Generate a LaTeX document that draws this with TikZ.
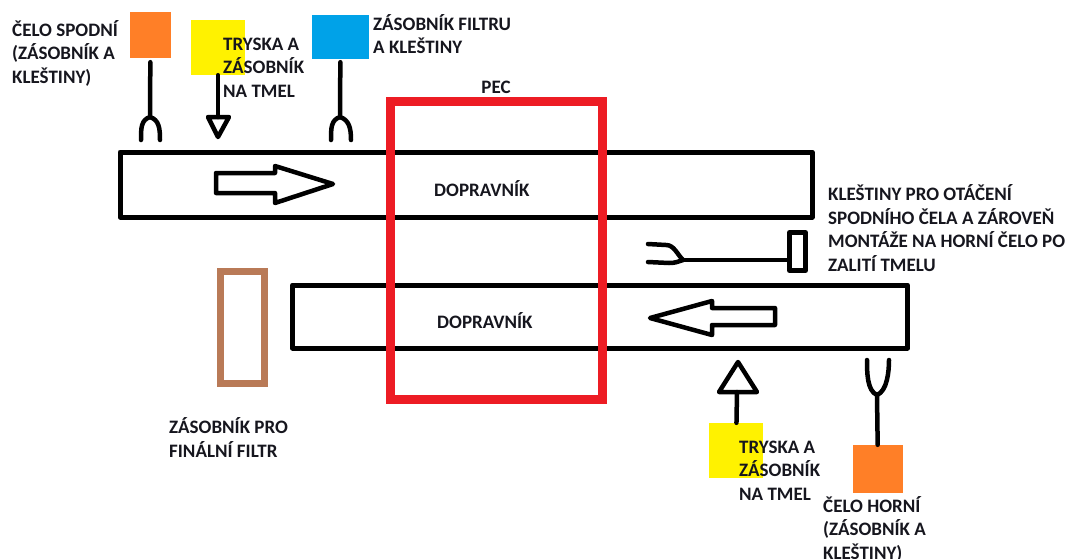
\documentclass[tikz,border=0pt]{standalone}
\usepackage{fontspec}
\setmainfont{Carlito}
\usetikzlibrary{positioning}
\definecolor{ink}{HTML}{16161E}
\definecolor{paintorange}{HTML}{FF7F27}
\definecolor{paintyellow}{HTML}{FFF200}
\definecolor{paintblue}{HTML}{00A2E8}
\definecolor{paintred}{HTML}{ED1C24}
\definecolor{paintbrown}{HTML}{B97A57}

\begin{document}
\begin{tikzpicture}[
  x=1pt,y=-1pt,
  lbl/.style={font=\fontsize{19}{23.5}\selectfont\bfseries,text=ink,align=left,inner sep=0pt,anchor=base west},
  belt/.style={draw,line width=5pt,line join=round,inner sep=0pt},
  sq/.style={inner sep=0pt,minimum width=#1},
  stem/.style={line width=4.5pt,line cap=round,line join=round}
]
\useasboundingbox (0,0) rectangle (1076,558);

\node[sq=41pt,minimum height=46pt,fill=paintorange] (lowend) at (150.5,35) {};
\node[sq=54pt,minimum height=55pt,fill=paintyellow] (nozzletop) at (218,47.5) {};
\node[sq=57pt,minimum height=44pt,fill=paintblue] (filterbin) at (340.5,37) {};
\node[sq=54pt,minimum height=55pt,fill=paintyellow] (nozzlebot) at (736,450.5) {};
\node[sq=50pt,minimum height=48pt,fill=paintorange] (upend) at (878,469) {};

\node[belt,minimum width=692pt,minimum height=65pt] (beltA) at (466,184.5) {};
\node[belt,minimum width=615pt,minimum height=63pt] (beltB) at (600,316.5) {};
\node[draw=paintbrown,line width=7pt,inner sep=0pt,minimum width=44pt,minimum height=112pt] (finalbin) at (242.5,327.5) {};
\node[belt,minimum width=16pt,minimum height=38pt] (plate) at (797.5,251.5) {};

\draw[stem,line cap=butt] (216,173) -- (275,173) -- (275,166) -- (333,184) -- (275,203) -- (275,193) -- (216,193) -- cycle;
\draw[stem,line cap=butt] (775,308) -- (712,308) -- (712,301) -- (650,318) -- (712,335) -- (712,325) -- (775,325) -- cycle;

\coordinate (g1) at (150,117);
\coordinate (t1) at (218,117);
\coordinate (g2) at (340,117);
\coordinate (g3) at (683,260);
\coordinate (t2) at (737,392);
\coordinate (g4) at (877,395);

\draw[stem,shorten <=4pt] (lowend) -- (g1);
\draw[stem] (g1) .. controls +(-9,3) and +(0,-12) .. +(-9,23);
\draw[stem] (g1) .. controls +(9,3) and +(0,-12) .. +(10,23);
\draw[stem] (nozzletop) -- (t1);
\draw[stem] (t1) +(-10,0) -- +(11,0) -- +(0,20) -- cycle;
\draw[stem,shorten <=3pt] (filterbin) -- (g2);
\draw[stem] (g2) .. controls +(-9,3) and +(0,-12) .. +(-9,23);
\draw[stem] (g2) .. controls +(9,3) and +(0,-12) .. +(11,23);
\draw[stem] (g3) -- (g3 -| plate.west);
\draw[stem] (g3) .. controls +(-6,-6) and +(8,0) .. +(-17,-15) -- +(-35,-16);
\draw[stem] (g3) .. controls +(-6,2) and +(6,0) .. +(-14,3) -- +(-35,2);
\draw[stem] (nozzlebot) -- (t2);
\draw[stem] (t2) +(-18,0) -- +(20,0) -- +(1,-30) -- cycle;
\draw[stem] (upend) -- (g4);
\draw[stem] (g4) .. controls +(-10,-4) and +(0,12) .. +(-10,-35);
\draw[stem] (g4) .. controls +(10,-4) and +(0,12) .. +(12,-35);

\node[draw=paintred,line width=9pt,inner sep=0pt,minimum width=212pt,minimum height=298pt] (oven) at (496,250) {};

\node[lbl,above=3pt of oven] (ovenlbl) {PEC};
\node[lbl] (beltAlbl) at (434,196) {DOPRAVNÍK};
\node[lbl] (beltBlbl) at (437,328) {DOPRAVNÍK};
\node[lbl] (lowendlbl) at (12,83) {ČELO SPODNÍ\\(ZÁSOBNÍK A\\KLEŠTINY)};
\node[lbl] (nozzletoplbl) at (223,97) {TRYSKA A\\ZÁSOBNÍK\\NA TMEL};
\node[lbl] (filterbinlbl) at (373,53.5) {ZÁSOBNÍK FILTRU\\A KLEŠTINY};
\node[lbl] (platelbl) at (828,271) {KLEŠTINY PRO OTÁČENÍ\\SPODNÍHO ČELA A ZÁROVEŇ\\MONTÁŽE NA HORNÍ ČELO PO\\ZALITÍ TMELU};
\node[lbl] (finalbinlbl) at (169,457) {ZÁSOBNÍK PRO\\FINÁLNÍ FILTR};
\node[lbl] (nozzlebotlbl) at (739,500) {TRYSKA A\\ZÁSOBNÍK\\NA TMEL};
\node[lbl] (upendlbl) at (823,559) {ČELO HORNÍ\\(ZÁSOBNÍK A\\KLEŠTINY)};
\end{tikzpicture}
\end{document}
